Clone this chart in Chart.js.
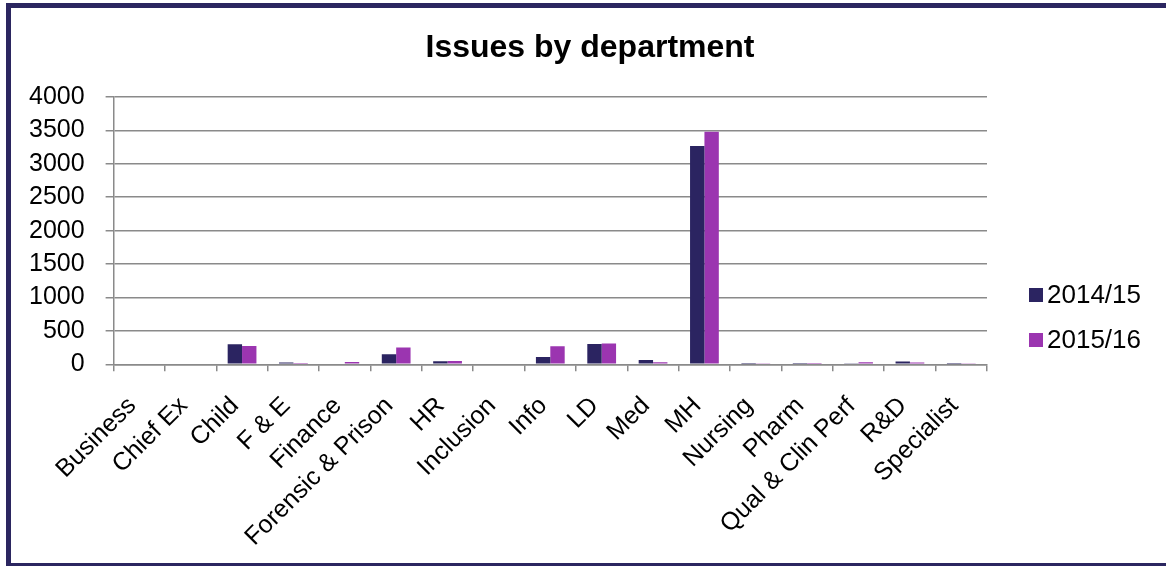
<!DOCTYPE html>
<html>
<head>
<meta charset="utf-8">
<script src="https://cdn.jsdelivr.net/npm/chart.js@4/dist/chart.umd.min.js"></script>
<style>
  html, body { margin: 0; padding: 0; background: #fff; overflow: hidden; }
  #wrap { position: relative; width: 1166px; height: 566px; overflow: hidden; }
  #frame { position: absolute; left: 6px; top: 3px; right: -10px; bottom: -2px; border: 5px solid #2B2660; pointer-events: none; }
</style>
</head>
<body>
<div id="wrap">
  <canvas id="c" width="1166" height="566"></canvas>
  <div id="frame"></div>
</div>
<script>
const categories = ["Business", "Chief Ex", "Child", "F & E", "Finance", "Forensic & Prison", "HR", "Inclusion", "Info", "LD", "Med", "MH", "Nursing", "Pharm", "Qual & Clin Perf", "R&D", "Specialist"];
const series2014 = [0, 0, 300, 25, 0, 150, 45, 10, 110, 305, 65, 3265, 2, 5, 15, 40, 2];
const series2015 = [0, 0, 275, 5, 35, 250, 50, 10, 270, 310, 30, 3480, 8, 5, 30, 25, 8];
const seriesNames = ["2014/15", "2015/16"];
const seriesColors = ["#2B2461", "#9B35B0"];
const yTicks = [0, 500, 1000, 1500, 2000, 2500, 3000, 3500, 4000];
const chartTitle = "Issues by department";

const FONT = "'Liberation Sans', Arial, sans-serif";
const GRID = "#8a8a8a";

// Title centred on the whole frame + legend at the right of the plot area
const decorations = {
  id: 'decorations',
  afterDraw(chart) {
    const ctx = chart.ctx;
    const area = chart.chartArea;
    ctx.save();
    ctx.font = "bold 32px " + FONT;
    ctx.fillStyle = '#000';
    ctx.textAlign = 'center';
    ctx.textBaseline = 'middle';
    ctx.fillText(chartTitle, 590, area.top - 49);
    const x0 = area.right + 42;
    const yMid = 317.5;
    const gap = 45;
    const box = 14;
    ctx.font = "26px " + FONT;
    ctx.textAlign = 'left';
    chart.data.datasets.forEach((ds, i) => {
      const y = yMid + (i - (chart.data.datasets.length - 1) / 2) * gap;
      ctx.fillStyle = ds.backgroundColor;
      ctx.fillRect(x0, y - box / 2, box, box);
      ctx.fillStyle = '#000';
      ctx.fillText(ds.label, x0 + 18, y + 1);
    });
    ctx.restore();
  }
};

new Chart(document.getElementById('c'), {
  type: 'bar',
  data: {
    labels: categories,
    datasets: [
      { label: seriesNames[0], data: series2014, backgroundColor: seriesColors[0], categoryPercentage: 0.56, barPercentage: 1.0 },
      { label: seriesNames[1], data: series2015, backgroundColor: seriesColors[1], categoryPercentage: 0.56, barPercentage: 1.0 }
    ]
  },
  plugins: [decorations],
  options: {
    responsive: false,
    animation: false,
    layout: { padding: { left: 8, right: 179, top: 97, bottom: -6 } },
    plugins: {
      title: { display: false },
      legend: { display: false },
      tooltip: { enabled: false }
    },
    scales: {
      x: {
        grid: { drawOnChartArea: false, drawTicks: true, tickLength: 7, color: GRID, lineWidth: 1.5 },
        border: { color: GRID, width: 1.5 },
        afterFit: (scale) => { scale.paddingLeft = 0; scale.paddingRight = 0; },
        ticks: {
          color: '#000',
          font: { family: FONT, size: 25 },
          maxRotation: 45, minRotation: 45,
          autoSkip: false,
          padding: 20,
          labelOffset: -7
        }
      },
      y: {
        min: 0, max: 4000,
        afterBuildTicks: (axis) => { axis.ticks = yTicks.map(v => ({ value: v })); },
        grid: { color: GRID, lineWidth: 1.5, drawTicks: true, tickLength: 8 },
        border: { color: GRID, width: 1.5 },
        ticks: {
          color: '#000',
          font: { family: FONT, size: 25 },
          padding: 21,
          autoSkip: false,
          callback: (v) => String(v)
        }
      }
    }
  }
});
</script>
</body>
</html>
